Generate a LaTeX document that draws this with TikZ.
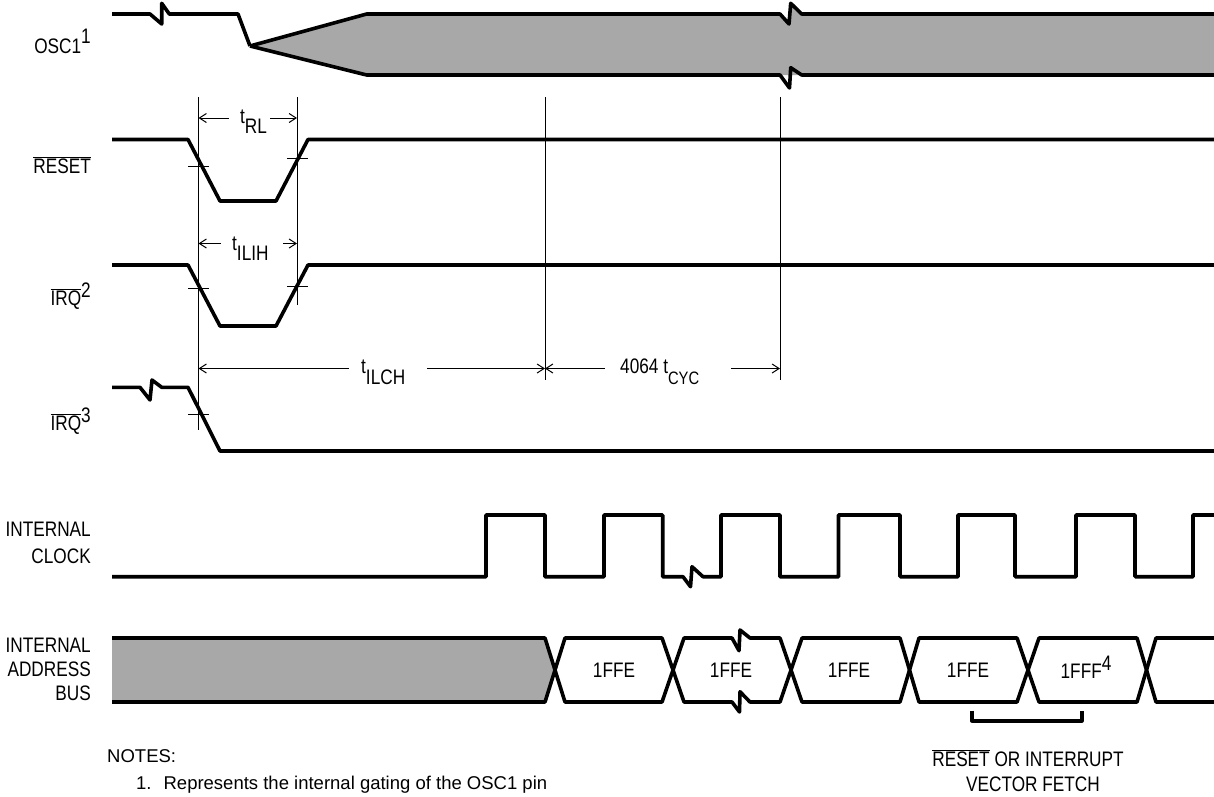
\documentclass[tikz,border=0pt]{standalone}
\usepackage{fontspec}
\usetikzlibrary{arrows.meta}
\setmainfont{Liberation Sans}
\newfontfamily\narrowfont[FakeStretch=0.82]{Liberation Sans}
\definecolor{busgray}{HTML}{A8A8A8}
\newcommand{\lowbar}[1]{$\overline{\hbox{#1}}$}

\begin{document}
\begin{tikzpicture}[
  x=1pt, y=-1pt,
  signal/.style={line width=3.6pt, line join=round},
  guide/.style={line width=1pt},
  dimenleft/.style={line width=1pt, {Straight Barb[length=7pt,width=9pt]}-},
  dimenright/.style={line width=1pt, -{Straight Barb[length=7pt,width=9pt]}},
  siglabel/.style={anchor=base east, inner sep=0pt, font=\narrowfont\fontsize{21}{25}\selectfont},
  stacklabel/.style={anchor=east, align=right, inner sep=0pt, font=\narrowfont\fontsize{21}{24}\selectfont},
  buslabel/.style={inner sep=0pt, font=\narrowfont\fontsize{21}{25}\selectfont},
  timelabel/.style={anchor=base west, inner sep=0pt, font=\narrowfont\fontsize{21}{25}\selectfont},
  notetext/.style={anchor=base west, inner sep=0pt, font=\fontsize{18.5}{22}\selectfont}
]
\useasboundingbox (0,0) rectangle (1214,796);

% shaded parts
\fill[busgray] (250,46) -- (366.7,14) -- (780,14) -- (789,24) -- (790.7,3.3) -- (801.7,14) -- (1214,14)
  -- (1214,75) -- (366.7,75) -- cycle;
\fill[busgray] (112,638) -- (545,638) -- (555,670) -- (545,702) -- (112,702) -- cycle;

% guide lines
\coordinate (g1) at (198.5,97);
\coordinate (g2) at (297,97);
\coordinate (g3) at (545,97);
\coordinate (g4) at (780,97);
\draw[guide] (g1) -- (198.5,430);
\draw[guide] (g2) -- (297,305);
\draw[guide] (g3) -- (545,380);
\draw[guide] (g4) -- (780,380);

% OSC1
\draw[signal] (112,14) -- (150,14) -- (161.7,24) -- (161.7,3.3) -- (169.3,14) -- (238,14) -- (250,46);
\draw[signal] (250,46) -- (366.7,14) -- (780,14) -- (789,24) -- (790.7,3.3) -- (801.7,14) -- (1214,14);
\draw[signal] (250,46) -- (366.7,75) -- (780,75) -- (789.5,88) -- (790.7,67.7) -- (801.7,75) -- (1214,75);

% RESET
\draw[signal] (112,139.5) -- (188,139.5) -- (220,201) -- (276,201) -- (308,139.5) -- (1214,139.5);
\draw[guide] (188,166) -- (209,166);
\draw[guide] (287,158) -- (308,158);

% IRQ 2
\draw[signal] (112,265) -- (188,265) -- (220,326) -- (276,326) -- (308,265) -- (1214,265);
\draw[guide] (188,288.7) -- (209,288.7);
\draw[guide] (287,286) -- (308,286);

% IRQ 3
\draw[signal] (112,387.3) -- (140,387.3) -- (150,400) -- (152,380) -- (161.7,387.3) -- (188,387.3) -- (220,451) -- (1214,451);
\draw[guide] (188,414) -- (209,414);

% dimension arrows
\node[timelabel] (trl) at (240,123) {t\raisebox{-10pt}{RL}};
\draw[dimenleft] (198.5,118) -- (229,118);
\draw[dimenright] (270,118) -- (297,118);
\node[timelabel] (tilih) at (232,250) {t\raisebox{-10pt}{ILIH}};
\draw[dimenleft] (198.5,243.5) -- (220.7,243.5);
\draw[dimenright] (283,243.5) -- (297,243.5);
\node[timelabel] (tilch) at (361,373) {t\raisebox{-11pt}{ILCH}};
\draw[dimenleft] (198.5,368.5) -- (349,368.5);
\draw[dimenright] (427,368.5) -- (545,368.5);
\node[timelabel] (tcyc) at (620,373) {4064 t\raisebox{-11pt}{\fontsize{18}{22}\selectfont CYC}};
\draw[dimenleft] (545,368.5) -- (605,368.5);
\draw[dimenright] (731,368.5) -- (780,368.5);

% internal clock
\draw[signal] (112,576.7) -- (486,576.7) -- (486,515) -- (545,515) -- (545,576.7) -- (604,576.7) -- (604,515)
  -- (662.7,515) -- (662.7,576.7) -- (683,576.7) -- (690.5,586.7) -- (692,566.7) -- (703,576.7) -- (721,576.7)
  -- (721,515) -- (780,515) -- (780,576.7) -- (838.5,576.7) -- (838.5,515) -- (900,515) -- (900,576.7)
  -- (958,576.7) -- (958,515) -- (1015,515) -- (1015,576.7) -- (1076,576.7) -- (1076,515) -- (1135,515)
  -- (1135,576.7) -- (1193,576.7) -- (1193,515) -- (1214,515);

% address bus
\draw[signal] (112,638) -- (545,638) -- (565,702) -- (662,702) -- (684,638) -- (732,638) -- (739,650.7)
  -- (740,630) -- (750,638) -- (780,638) -- (802,702) -- (900,702) -- (919,638) -- (1017,638) -- (1039,702)
  -- (1137,702) -- (1156,638) -- (1214,638);
\draw[signal] (112,702) -- (545,702) -- (565,638) -- (662,638) -- (684,702) -- (732,702) -- (739.5,712)
  -- (740,691.7) -- (750,702) -- (780,702) -- (802,638) -- (900,638) -- (919,702) -- (1017,702) -- (1039,638)
  -- (1137,638) -- (1156,702) -- (1214,702);
\draw[signal] (971.7,710.7) -- (971.7,720.7) -- (1081.7,720.7) -- (1081.7,710.7);

\node[buslabel] (a1) at (614,670) {1FFE};
\node[buslabel] (a2) at (731,670) {1FFE};
\node[buslabel] (a3) at (849,670) {1FFE};
\node[buslabel] (a4) at (968,670) {1FFE};
\node[buslabel] (a5) at (1086,667) {1FFF\raisebox{8pt}{4}};

% signal names
\node[siglabel] (n1) at (91,53) {OSC1\raisebox{10pt}{1}};
\node[siglabel] (n2) at (91,173) {\lowbar{RESET}};
\node[siglabel] (n3) at (91,305) {\lowbar{IRQ}\raisebox{8pt}{2}};
\node[siglabel] (n4) at (91,430) {\lowbar{IRQ}\raisebox{8pt}{3}};
\node[stacklabel] (n5) at (91,543) {INTERNAL\\[3pt]CLOCK};
\node[stacklabel] (n6) at (91,669) {INTERNAL\\ADDRESS\\BUS};

% notes
\node[notetext] (notes) at (107,762) {NOTES:};
\node[notetext] (note1) at (136,789) {1.\hspace{12pt}Represents the internal gating of the OSC1 pin};
\node[buslabel, align=center] (fetch) at (1028,771) {\lowbar{RESET} OR INTERRUPT\\\hspace*{10pt}VECTOR FETCH};
\end{tikzpicture}
\end{document}
